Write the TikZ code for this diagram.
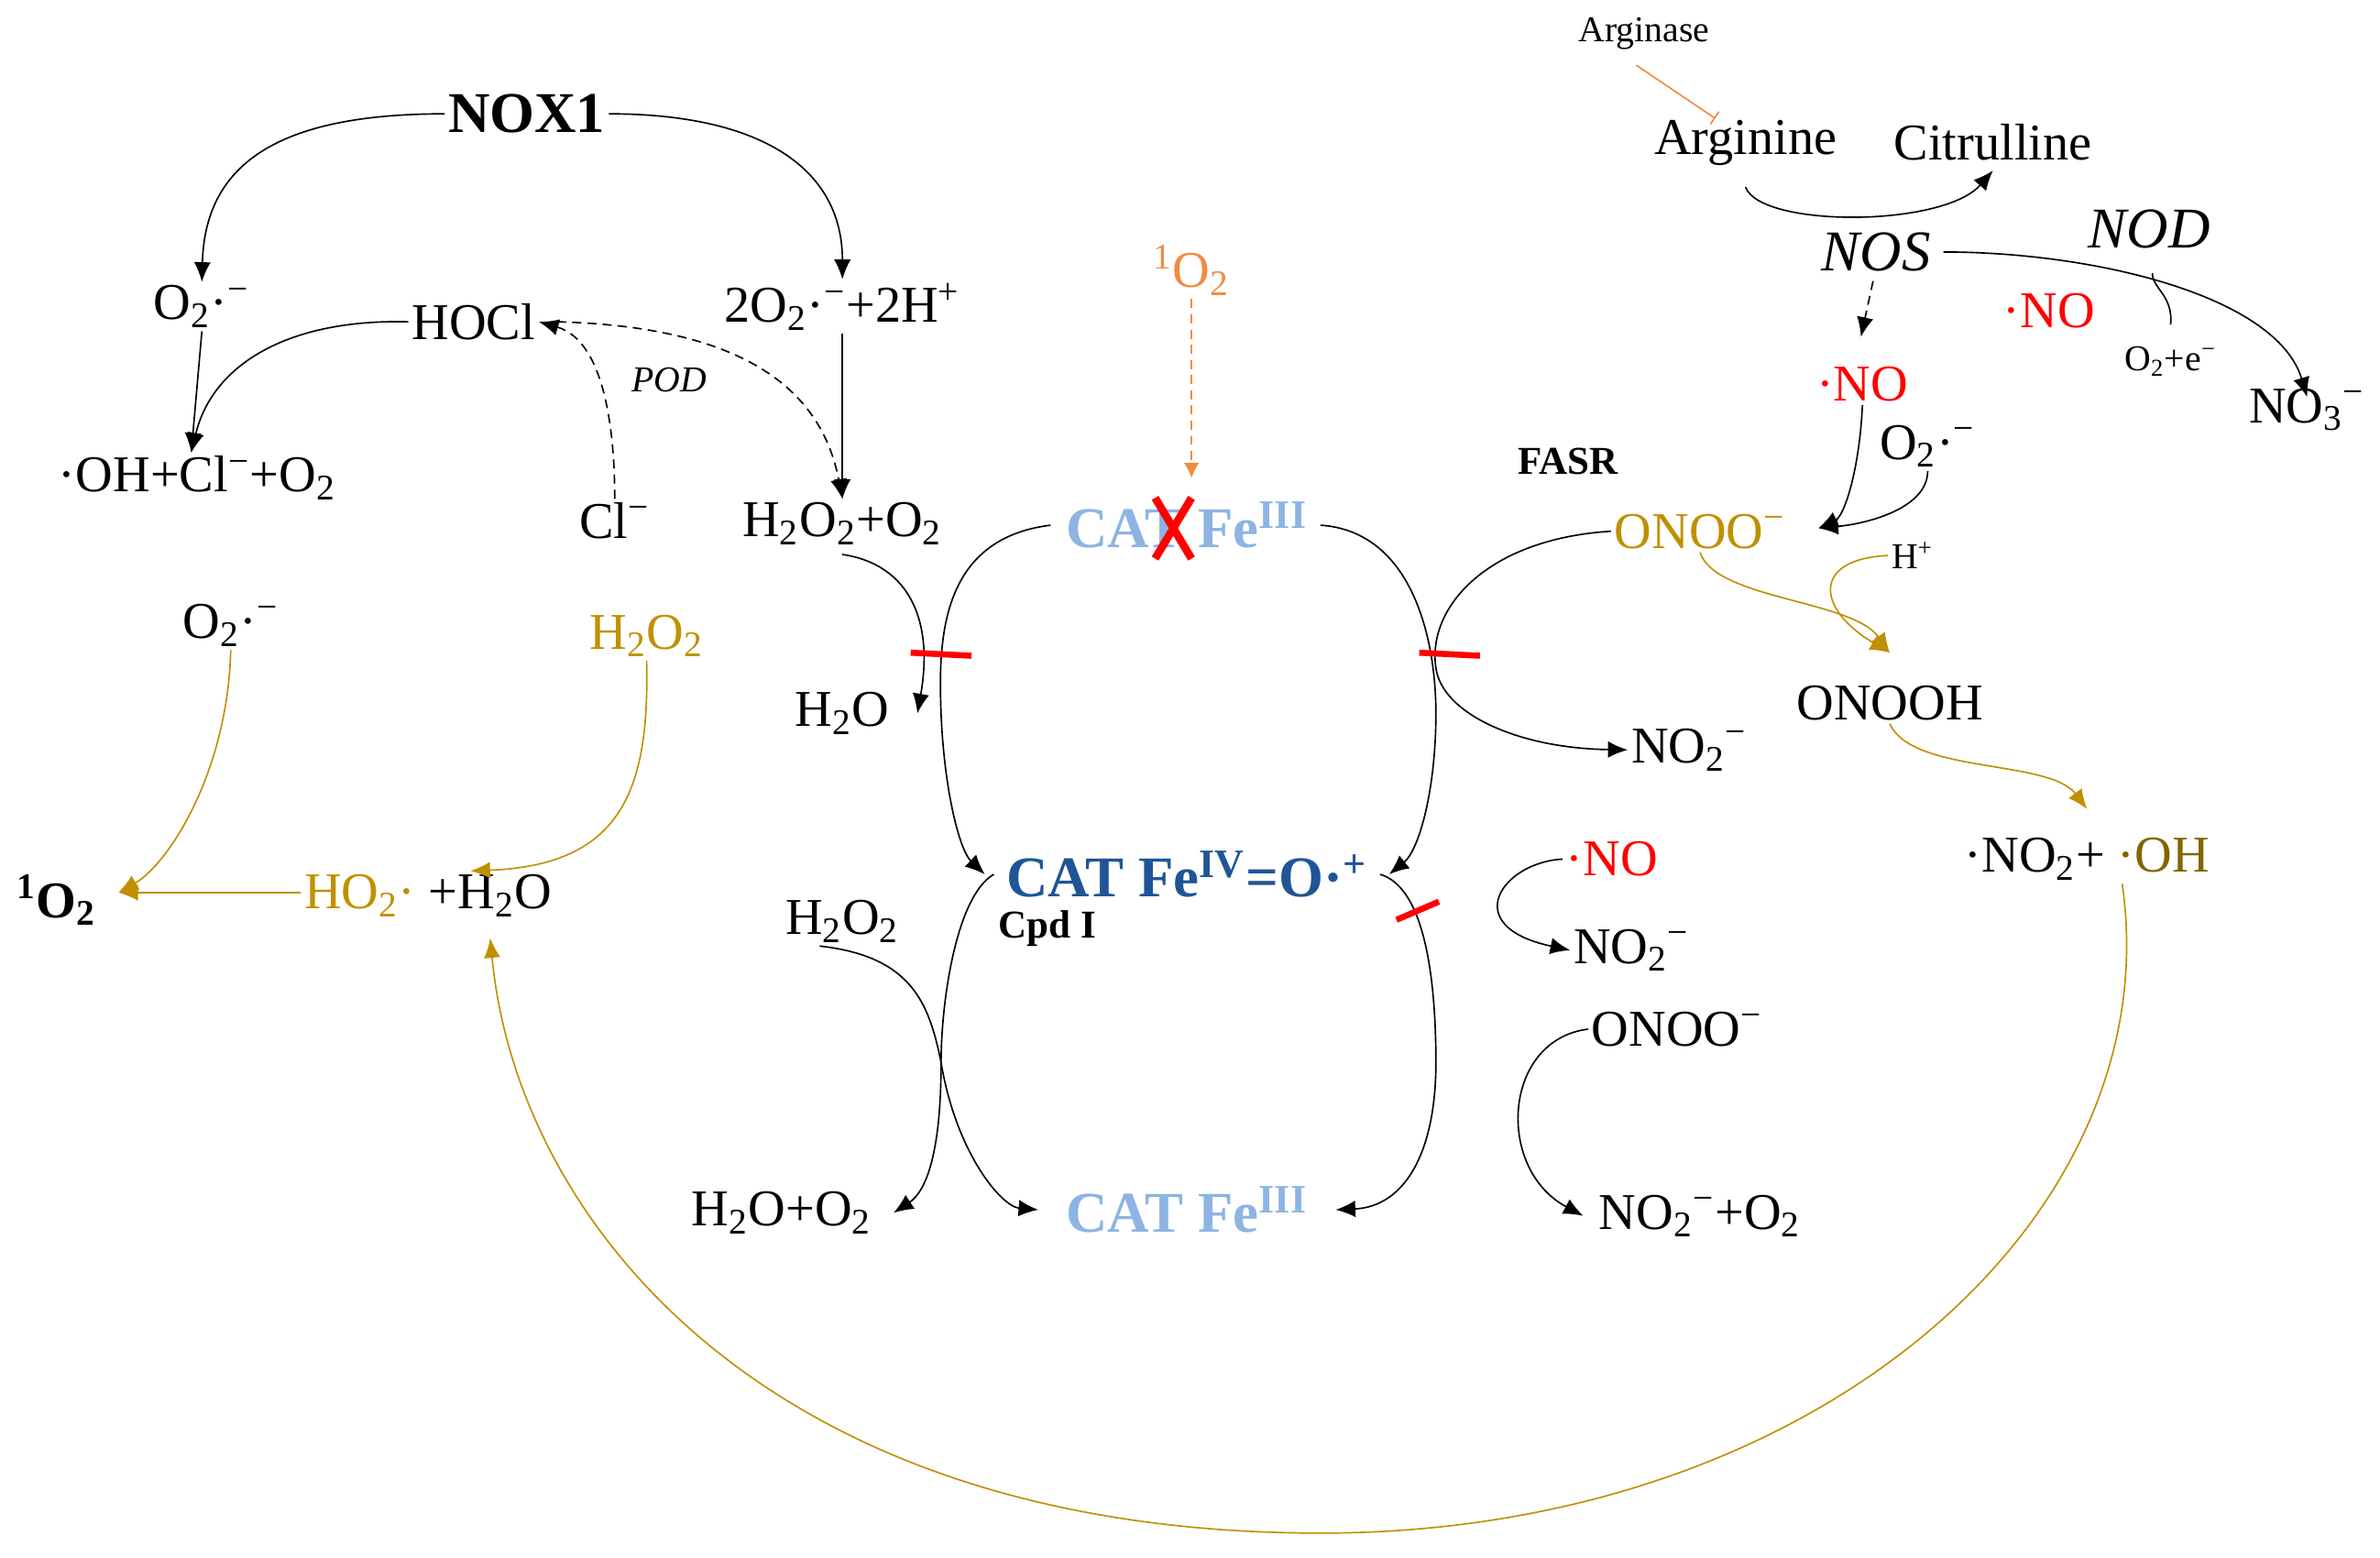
\documentclass[tikz,border=0pt]{standalone}
\usepackage{fontspec}
\setmainfont{Liberation Serif}
\usetikzlibrary{arrows.meta}
\definecolor{lb}{RGB}{141,180,226}
\definecolor{db}{RGB}{31,85,151}
\definecolor{gd}{RGB}{192,144,0}
\definecolor{ol}{RGB}{130,100,0}
\definecolor{og}{RGB}{240,140,64}
\newcommand\dn[1]{\textsubscript{#1}}
\newcommand\up[1]{\textsuperscript{#1}}
\begin{document}
\begin{tikzpicture}[x=0.5pt,y=-0.5pt,
  t/.style={font=\fontsize{17}{19}\selectfont,inner sep=1pt},
  s/.style={font=\fontsize{12}{14}\selectfont,inner sep=1pt},
  a/.style={-{Latex[length=6.5pt,width=5.5pt]},line width=0.5pt},
  g/.style={a,draw=gd,color=gd},
  rb/.style={draw=red,line width=2pt},
  ]
\useasboundingbox (0,0) rectangle (1568,1026);
% left
\node[t,font=\fontsize{19}{21}\selectfont\bfseries] (nox) at (347,75) {NOX1};
\node[t] (o2a) at (133,202) {O\dn{2}·\up{−}};
\node[t] (hocl) at (312,212) {HOCl};
\node[t] (o2h) at (555,202) {2O\dn{2}·\up{−}+2H\up{+}};
\node[s,font=\fontsize{12}{14}\selectfont\itshape] (pod) at (441,250) {POD};
\node[t] (ohcl) at (130,315) {·OH+Cl\up{−}+O\dn{2}};
\node[t] (cl) at (405,343) {Cl\up{−}};
\node[t] (h2o2o2) at (555,345) {H\dn{2}O\dn{2}+O\dn{2}};
\node[t] (o2b) at (152,412) {O\dn{2}·\up{−}};
\node[t,text=gd] (h2o2g) at (426,419) {H\dn{2}O\dn{2}};
\node[t,font=\fontsize{17}{19}\selectfont\bfseries] (so) at (37,593) {\up{1}O\dn{2}};
\node[t] (ho2) at (282,590) {\textcolor{gd}{HO\dn{2}·} +H\dn{2}O};
\coordinate (soe) at (78,588);
\draw[a] (nox.west) .. controls (180,75) and (135,110) .. (o2a.north);
\draw[a] (nox.east) .. controls (500,75) and (555,110) .. (o2h.north);
\draw[a] (hocl.west) .. controls (190,210) and (140,240) .. ([xshift=-2pt]ohcl.north);
\draw[a] (o2a.south) -- ([xshift=-2pt]ohcl.north);
\draw[a,densely dashed] (cl.north) .. controls (405,290) and (400,225) .. (hocl.east);
\draw[a,densely dashed] ([xshift=6pt]hocl.east) .. controls (480,215) and (540,250) .. (h2o2o2.north);
\draw[a] (o2h.south) -- (h2o2o2.north);
\draw[g] (o2b.south) .. controls (150,510) and (110,570) .. (soe);
\draw[g] (h2o2g.south) .. controls (428,520) and (410,570) .. ([xshift=-28pt]ho2.north east);
\draw[g] (ho2.west |- soe) -- (soe);
% center
\node[t,text=og] (so2) at (785,178) {\up{1}O\dn{2}};
\node[t,font=\fontsize{19}{21}\selectfont\bfseries,text=lb] (cat1) at (782,346) {CAT Fe\up{III}};
\draw[red,line width=2.6pt] (761,328) -- (785,368) (785,328) -- (761,368);
\draw[a,densely dashed,draw=og,-{Latex[length=5pt,width=5pt]}, color=og] (so2.south) -- (785,315);
\node[t] (h2o) at (555,470) {H\dn{2}O};
\node[t,font=\fontsize{19}{21}\selectfont\bfseries,text=db] (cat4) at (782,576) {CAT Fe\up{IV}=O·\up{+}};
\node[s,font=\fontsize{13}{15}\selectfont\bfseries] (cpd) at (690,612) {Cpd I};
\node[t] (h2o2b) at (555,607) {H\dn{2}O\dn{2}};
\node[t] (h2oo2) at (515,799) {H\dn{2}O+O\dn{2}};
\node[t,font=\fontsize{19}{21}\selectfont\bfseries,text=lb] (cat3) at (782,797) {CAT Fe\up{III}};
\draw[a] ([yshift=-2pt]h2o2o2.south west)+(68,0) .. controls (600,372) and (615,410) .. ([xshift=8pt]h2o.east);
\draw[a] (cat1.west)+(-8,0) .. controls (620,355) and (618,420) .. (620,470) .. controls (622,520) and (632,560) .. ([xshift=-6pt]cat4.west);
\draw[rb] (600,430) -- (640,432);
\draw[a] (cat1.east)+(6,0) .. controls (930,350) and (946,420) .. (946,470) .. controls (946,520) and (935,560) .. ([xshift=6pt]cat4.east);
\node[t,font=\fontsize{13}{15}\selectfont\bfseries] (fasr) at (1033,304) {FASR};
\node[t,text=gd] (onoo) at (1120,350) {ONOO\up{−}};
\node[t] (no2a) at (1113,494) {NO\dn{2}\up{−}};
\draw[a] (onoo.west) .. controls (980,355) and (940,400) .. (946,440) .. controls (950,470) and (1000,493) .. (no2a.west);
\draw[rb] (935,430) -- (975,432);
\draw[a] (cat4.west)+(-6,0) .. controls (630,590) and (620,660) .. (620,700) .. controls (620,760) and (610,785) .. ([xshift=6pt]h2oo2.east);
\draw[a] (h2o2b.south)+(-15,0) .. controls (600,630) and (612,660) .. (620,700) .. controls (630,760) and (660,795) .. ([xshift=-8pt]cat3.west);
\draw[a] (cat4.east)+(6,0) .. controls (940,585) and (946,650) .. (946,700) .. controls (946,760) and (925,795) .. ([xshift=8pt]cat3.east);
\draw[rb] (920,606) -- (948,594);
% right
\node[t,text=red] (no1) at (1062,566) {·NO};
\node[t] (no2b) at (1075,626) {NO\dn{2}\up{−}};
\node[t] (onoo2) at (1105,678) {ONOO\up{−}};
\node[t] (no2o2) at (1120,801) {NO\dn{2}\up{−}+O\dn{2}};
\draw[a] (no1.west) .. controls (990,568) and (960,610) .. (no2b.west);
\draw[a] (onoo2.west) .. controls (990,685) and (985,770) .. ([xshift=-4pt]no2o2.west);
\node[t] (onooh) at (1245,463) {ONOOH};
\node[t] (no2oh) at (1375,566) {·NO\dn{2}+ \textcolor{ol}{·OH}};
\node[s] (arg) at (1083,22) {Arginase};
\node[t] (argn) at (1150,94) {Arginine};
\node[t] (cit) at (1313,94) {Citrulline};
\node[t,font=\fontsize{19}{21}\selectfont\itshape] (nos) at (1236,166) {NOS};
\node[t,font=\fontsize{19}{21}\selectfont\itshape] (nod) at (1416,151) {NOD};
\node[t,text=red] (no2) at (1350,205) {·NO};
\node[t,text=red] (no3) at (1227,253) {·NO};
\node[t] (o2c) at (1270,294) {O\dn{2}·\up{−}};
\node[s] (o2e) at (1430,238) {O\dn{2}+e\up{−}};
\node[t] (nitr) at (1520,270) {NO\dn{3}\up{−}};
\node[s] (hp) at (1260,366) {H\up{+}};
\draw[og,line width=0.5pt,-{Bar[width=5pt]}] (arg.south) ++(-5,8) -- (1130,78);
\draw[a] (argn.south)+(0,12) .. controls (1160,150) and (1280,150) .. ([yshift=-2pt]cit.south);
\draw[a] (nos.east)+(6,0) .. controls (1380,166) and (1500,195) .. ([yshift=-4pt]nitr.north);
\draw[line width=0.5pt] (o2e.north) ++(0,-12) .. controls (1432,195) and (1418,190) .. (1418,180);
\draw[a,densely dashed] (nos.south)+(-2,4) -- (1226,222);
\draw[a] (no3.south) .. controls (1225,310) and (1215,340) .. (1198,348);
\draw[a] (o2c.south) .. controls (1270,335) and (1230,345) .. (1198,348);
\draw[g] (onoo.south) .. controls (1130,395) and (1220,395) .. (1245,430);
\draw[g] (hp.west) .. controls (1195,368) and (1195,400) .. (1245,430);
\draw[g] (onooh.south) .. controls (1260,510) and (1350,500) .. (1375,533);
\draw[g] ([xshift=-30pt]no2oh.south east) .. controls (1430,800) and (1200,1010) .. (870,1010) .. controls (500,1010) and (340,800) .. (323,618);
\end{tikzpicture}
\end{document}
